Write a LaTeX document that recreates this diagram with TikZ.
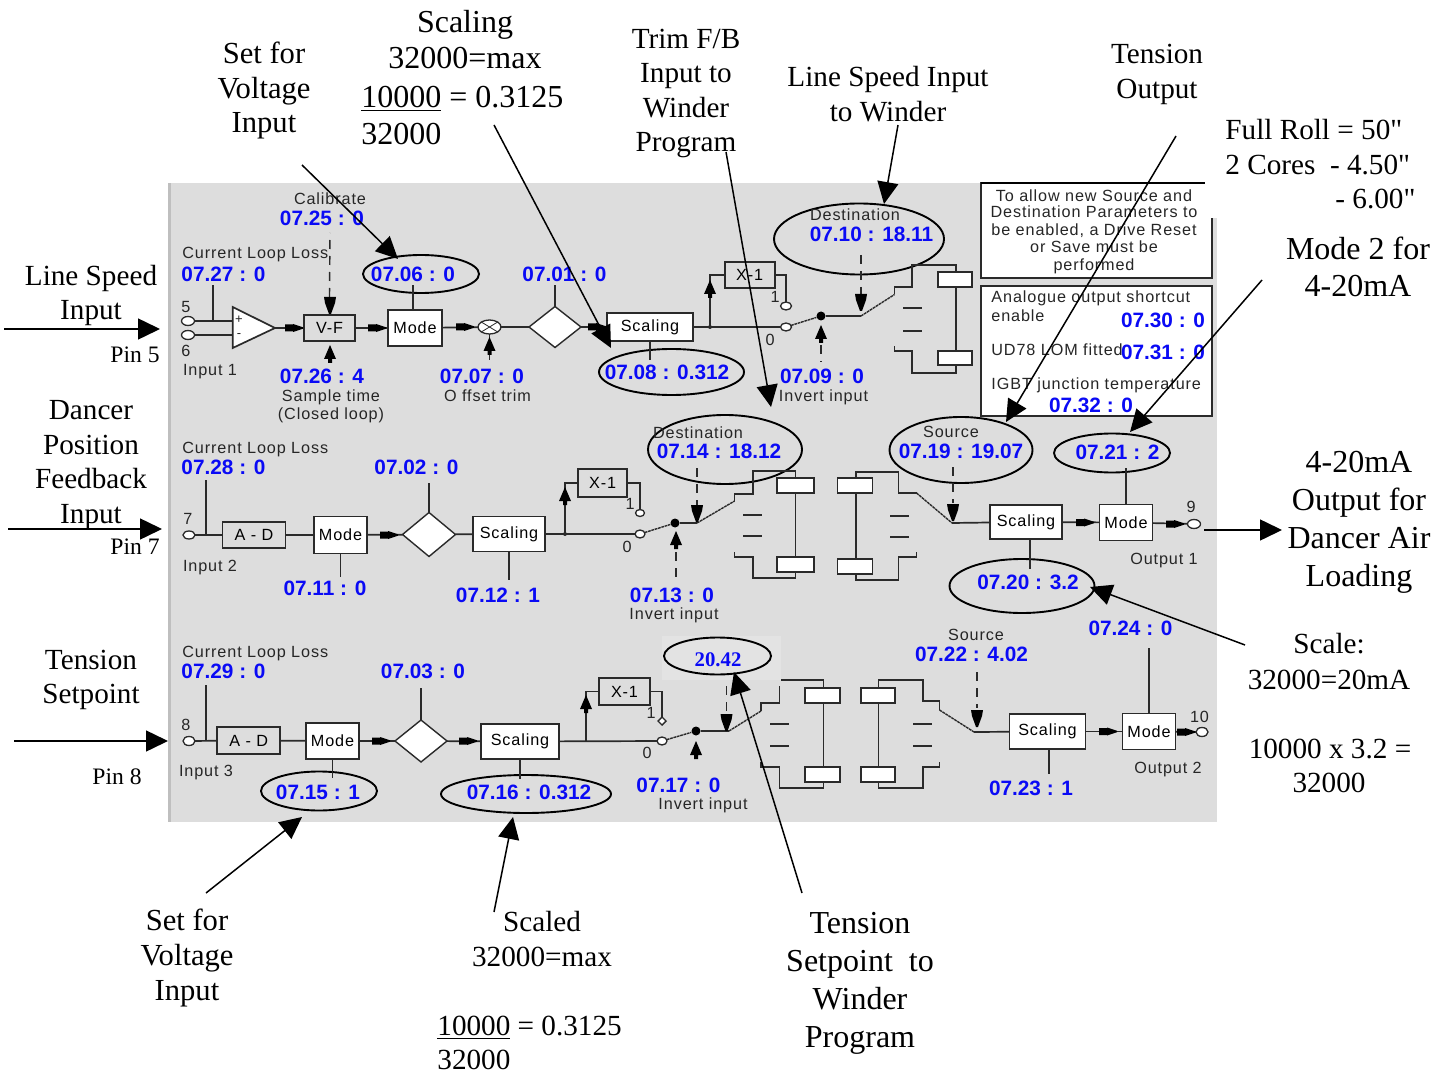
\documentclass[tikz,border=0pt]{standalone}
\usepackage{fontspec}
\usepackage{xcolor}
\usetikzlibrary{shapes.geometric,arrows.meta}
\setmainfont{Liberation Serif}
\newfontfamily\plainser{Liberation Serif}
\newfontfamily\uifont[LetterSpace=5.5]{Liberation Sans}
\newfontfamily\valfont{Liberation Sans}
\definecolor{panel}{HTML}{DDDDDD}
\definecolor{patch}{HTML}{E3E3E3}
\definecolor{wirec}{HTML}{2A2A2A}
\definecolor{valc}{HTML}{0A0AF5}
\newcommand\boxtxt{\uifont\fontsize{8.1}{9.6}\selectfont}
\newcommand\tipR[2]{\fill[black] (#1,#2-3.5) -- (#1+8,#2-3.5) -- (#1+8,#2-4) -- (#1+18,#2-.7) -- (#1+18,#2+.7) -- (#1+8,#2+4) -- (#1+8,#2+3.5) -- (#1,#2+3.5) -- cycle;}
\newcommand\tipD[2]{\fill[black] (#1-6,#2-17) -- (#1+6,#2-17) -- (#1+5,#2-11) -- (#1+1,#2) -- (#1-1,#2) -- (#1-5,#2-11) -- cycle;}
\newcommand\tipU[2]{\fill[black] (#1,#2) -- (#1+6,#2+14) -- (#1+2,#2+14) -- (#1+2,#2+18) -- (#1-2,#2+18) -- (#1-2,#2+14) -- (#1-6,#2+14) -- cycle;}
\tikzset{
  ann/.style={font=\fontsize{14.6}{17.3}\selectfont,align=center,inner sep=0pt,text=black},
  annB/.style={ann,font=\fontsize{16}{19}\selectfont},
  annM/.style={ann,font=\fontsize{15.3}{17.4}\selectfont},
  annl/.style={ann,anchor=west},
  pinlab/.style={font=\fontsize{11.8}{14}\selectfont,inner sep=0pt,text=black},
  ui/.style={font=\uifont\fontsize{8.1}{9.6}\selectfont,inner sep=0pt,text=black!85,text height=5.8pt,text depth=0pt},
  uil/.style={ui,anchor=west},
  sgn/.style={font=\uifont\fontsize{6.5}{7}\selectfont,inner sep=0pt,text=black!85},
  val/.style={font=\valfont\bfseries\fontsize{10.4}{12}\selectfont,inner sep=0pt,text=valc},
  bx/.style n args={2}{draw=wirec,line width=.95pt,inner sep=0pt,outer sep=0pt,minimum width=#1*.5pt,minimum height=#2*.5pt},
  wbox/.style n args={2}{bx={#1}{#2},fill=white},
  gbox/.style n args={2}{bx={#1}{#2},fill=panel},
  ell/.style n args={2}{ellipse,draw=black,line width=.95pt,inner sep=0pt,outer sep=0pt,minimum width=#1*.5pt,minimum height=#2*.5pt},
  circ/.style n args={2}{ellipse,draw=wirec,fill=white,line width=.65pt,inner sep=0pt,outer sep=0pt,minimum width=#1*.5pt,minimum height=#2*.5pt},
  dia/.style n args={2}{diamond,draw=wirec,fill=white,line width=.7pt,inner sep=0pt,outer sep=0pt,minimum width=#1*.5pt,minimum height=#2*.5pt},
  dotj/.style={circle,fill=black,inner sep=0pt,minimum size=4.5pt},
  wire/.style={draw=wirec,line width=.85pt},
  dash1/.style={draw=wirec,line width=.7pt,dash pattern=on 4.5pt off 3.5pt},
  sw/.style={draw=wirec,line width=.7pt,dash pattern=on 1.4pt off .35pt},
  big/.style={draw=black,line width=.75pt,-{Triangle[length=11pt,width=10.5pt,fill=black]}},
}
\begin{document}
\begin{tikzpicture}[x=.5pt,y=-.5pt]
\useasboundingbox (0,0) rectangle (1443,1074);
\fill[white] (0,0) rectangle (1443,1074);
\fill[panel] (168,183) rectangle (1217,822);
\fill[black!25] (168,183) rectangle (171,822);

%% ----- row 1 -----
\node[uil] (cll1) at (182,253) {Current Loop Loss};
\node[val] (v0727) at (223.5,274) {07.27 : 0};
\node[ui] (calib) at (330,199) {Calibrate};
\node[val] (v0725) at (322,218) {07.25 : 0};
\node[ui] (n5) at (186,307) {5};
\node[ui] (n6) at (186,351) {6};
\node[circ={13}{9}] (p5) at (188,321) {};
\node[circ={13}{9}] (p6) at (188,335) {};
\node[ui] (in1) at (210,370) {Input 1};
\coordinate (amp1) at (232.7,321);
\coordinate (amp2) at (232.7,335);
\draw[wire] (p5) -- (amp1);
\draw[wire] (p6) -- (amp2);
\draw[wire] (213,321) -- (213,285);
\draw[wire,fill=white] (232.7,307) -- (275,328) -- (232.7,348) -- cycle;
\node[sgn] (plus) at (239,320) {+};
\node[sgn] (minus) at (239,336) {-};
\node[gbox={51}{26}] (vf) at (329.5,328) {\boxtxt V-F};
\coordinate (ampout) at (275,328);
\draw[wire] (ampout) -- (vf);
\node[wbox={54}{36}] (mode1) at (415,328) {\boxtxt Mode};
\draw[wire] (vf) -- (mode1);
\node[circ={23}{14}] (mix) at (489.5,327) {};
\draw[draw=wirec,line width=.4pt] (mix.north west) -- (mix.south east) (mix.north east) -- (mix.south west);
\node[dia={52}{41}] (d1) at (555,327) {};
\node[wbox={86}{28}] (sc1) at (650,327) {\boxtxt Scaling};
\draw[wire] (mode1) -- (mix);
\draw[wire] (mix) -- (d1);
\draw[wire] (d1) -- (sc1);
\tipR{285}{328}\tipR{368}{328}\tipR{456}{327}\tipR{588}{327}
\node[ell={116}{38}] (e0706) at (421,274) {};
\node[val] (v0706) at (413,274) {07.06 : 0};
\draw[wire] (mode1.north) ++(-2,0) -- ++(0,-25);
\node[val] (v0701) at (564.5,274) {07.01 : 0};
\draw[wire] (d1.north) -- ++(0,-21);
\draw[dash1] (vf.north) ++(0,-18) -- (330,233);
\tipD{330}{314}
\node[val] (v0726) at (322,376) {07.26 : 4};
\tipU{330}{345}
\node[ui] (samp) at (331,396) {Sample time};
\node[ui] (clos) at (331,414) {(Closed loop)};
\node[val] (v0707) at (482,376) {07.07 : 0};
\node[ui] (otrim) at (487.5,396) {O ffset trim};
\draw[wire] (mix.south) -- ++(0,26);
\tipU{489.5}{337}
\node[val] (v0708) at (667,372) {07.08 : 0.312};
\node[ell={145}{46}] (e0708) at (671.5,372) {};
\draw[wire] (sc1.south) -- ++(0,19);
\node[gbox={50}{26}] (xa) at (749.7,275) {\boxtxt X-1};
\node[circ={11}{8}] (s1b) at (786,306) {};
\node[circ={11}{8}] (s1a) at (786,327) {};
\node[ui] (l1a) at (775,297) {1};
\node[ui] (l0a) at (770,340) {0};
\coordinate (br1) at (710,327);
\draw[wire] (sc1) -- (s1a);
\draw[wire] (br1) |- (xa);
\draw[wire] (xa.east) -| (s1b.north);
\fill[wirec] (br1) circle (2);
\tipU{710}{280}
\node[dotj] (j1) at (821,316) {};
\draw[sw] (s1a) -- (j1);
\coordinate (s1in) at (861,316);
\draw[wire] (j1) -- (s1in);
\tipU{821}{325}
\draw[dash1] (821,345) -- (821,362);
\node[val] (v0709) at (822,376) {07.09 : 0};
\node[ui] (inv1) at (823.5,396) {Invert input};
\node[ell={170}{71}] (e0710) at (859,239) {};
\node[ui] (dest1) at (855,215) {Destination};
\node[val] (v0710) at (871.5,234) {07.10 : 18.11};
\draw[dash1] (861,255) -- (861,294);
\tipD{861}{311}
\draw[sw] (s1in) -- (894.5,294.5);
\draw[wire] (894.5,294.5) -- (894.5,287) -- (912,287) -- (912,265) -- (956,265) -- (956,373) -- (912,373) -- (912,351) -- (894.5,351) -- (894.5,346);
\node[wbox={34}{15}] (c1a) at (955,279.5) {};
\node[wbox={34}{14}] (c1b) at (955,358) {};
\draw[wire] (903,308) -- (922,308) (903,331) -- (922,331);

%% ----- info boxes -----
\node[gbox={231}{95},fill=white] (info1) at (1096.5,230.5) {};
\fill[white] (1205,175) rectangle (1222,218);
\draw[black,line width=.8pt] (980.7,183) -- (1205,183);
\node[ui] (t1) at (1094,196) {To allow new  Source and};
\node[ui] (t2) at (1094,212) {Destination Parameters to};
\node[ui] (t3) at (1094,230) {be enabled, a Drive Reset};
\node[ui] (t4) at (1094,247) {or Save must be};
\node[ui] (t5) at (1094,265) {performed};
\node[gbox={231}{130},fill=white] (info2) at (1096.5,351) {};
\node[uil] (u1) at (991,297) {Analogue output shortcut};
\node[uil] (u2) at (991,316) {enable};
\node[val] (v0730) at (1163,320) {07.30 : 0};
\node[uil] (u3) at (991,350) {UD78 LOM fitted};
\node[val] (v0731) at (1163,352) {07.31 : 0};
\node[uil] (u4) at (991,384) {IGBT junction temperature};
\node[val] (v0732) at (1091,405) {07.32 : 0};

%% ----- row 2 -----
\node[uil] (cll2) at (182,448) {Current Loop Loss};
\node[val] (v0728) at (223.5,467) {07.28 : 0};
\node[circ={12}{8}] (p7) at (189,535) {};
\node[ui] (n7) at (188,519) {7};
\node[ui] (in2) at (210,566) {Input 2};
\node[gbox={63}{26}] (ad2) at (254,535) {\boxtxt A - D};
\draw[wire] (p7) -- (ad2);
\draw[wire] (206,535) -- (206,480);
\node[wbox={53}{37}] (mode2) at (340.5,535) {\boxtxt Mode};
\node[dia={53}{44}] (d2) at (429,534.5) {};
\node[wbox={72}{35}] (sc2) at (509,534) {\boxtxt Scaling};
\draw[wire] (ad2) -- (mode2);
\draw[wire] (mode2) -- (d2);
\draw[wire] (d2) -- (sc2);
\tipR{380}{535}
\draw[wire] (mode2.south) -- ++(0,23);
\node[val] (v0711) at (325,588) {07.11 : 0};
\draw[wire] (d2.north) -- ++(0,-30);
\node[val] (v0702) at (416.5,467) {07.02 : 0};
\draw[wire] (sc2.south) -- ++(0,28);
\node[val] (v0712) at (498,595) {07.12 : 1};
\node[gbox={49}{28}] (xb) at (602.7,483) {\boxtxt X-1};
\node[circ={9}{7}] (s2b) at (640,513) {};
\node[circ={10}{8}] (s2a) at (640,534) {};
\node[ui] (l1b) at (630,504) {1};
\node[ui] (l0b) at (627,547) {0};
\coordinate (br2) at (565,534);
\draw[wire] (sc2) -- (s2a);
\draw[wire] (br2) |- (xb);
\draw[wire] (xb.east) -| (s2b.north);
\fill[wirec] (br2) circle (2);
\tipU{565}{487}
\node[dotj] (j2) at (675,523) {};
\draw[sw] (s2a) -- (j2);
\coordinate (s2in) at (697,523);
\draw[wire] (j2) -- (s2in);
\tipU{676}{531}
\draw[dash1] (676,552) -- (676,582);
\node[val] (v0713) at (672,595) {07.13 : 0};
\node[ui] (inv2) at (674,614) {Invert input};
\node[ell={154}{69}] (e0714) at (725,449.5) {};
\node[ui] (dest2) at (698,433) {Destination};
\node[val] (v0714) at (719,451) {07.14 : 18.12};
\draw[dash1] (697,468) -- (697,505);
\tipD{697}{522}
\draw[sw] (s2in) -- (734.6,501);
\draw[wire] (734.6,501) -- (734.6,494) -- (753,494) -- (753,471) -- (795.5,471) -- (795.5,578) -- (753,578) -- (753,557) -- (734.6,557) -- (734.6,552);
\node[wbox={37}{15}] (c2a) at (795.5,485.5) {};
\node[wbox={37}{15}] (c2b) at (795.5,564.5) {};
\draw[wire] (743,515) -- (762,515) (743,536) -- (762,536);
\draw[wire] (916.5,493) -- (898.6,493) -- (898.6,472) -- (856,472) -- (856,580) -- (898.6,580) -- (898.6,557) -- (916.5,557) -- (916.5,552);
\node[wbox={35}{15}] (c3a) at (855,485.5) {};
\node[wbox={35}{15}] (c3b) at (855,566.5) {};
\draw[wire] (890,516) -- (909,516) (890,537) -- (909,537);
\coordinate (s3out) at (952,523);
\draw[sw] (916.5,493) -- (s3out);
\node[ell={143}{66}] (e0719) at (961,450) {};
\node[ui] (src2) at (951,432) {Source};
\node[val] (v0719) at (961,451) {07.19 : 19.07};
\draw[dash1] (953,467) -- (953,503);
\tipD{953}{521}
\node[wbox={72}{34}] (sc3) at (1026,522) {\boxtxt Scaling};
\draw[wire] (s3out) -- (sc3);
\node[wbox={53}{36}] (mode3) at (1126,522.5) {\boxtxt Mode};
\draw[wire] (sc3) -- (mode3);
\tipR{1076}{522.5}
\node[ell={145}{54}] (e0720) at (1022,586) {};
\node[val] (v0720) at (1028,582) {07.20 : 3.2};
\draw[wire] (sc3.south) ++(4,0) -- ++(0,30);
\node[ell={116}{39}] (e0721) at (1112,453) {};
\node[val] (v0721) at (1117.5,452) {07.21 : 2};
\draw[wire] (mode3.north) -- ++(0,-37);
\node[circ={13}{9}] (p9) at (1194,524) {};
\node[ui] (n9) at (1191,507) {9};
\draw[wire] (mode3) -- (p9);
\tipR{1166}{524}
\node[ui] (out1) at (1164,559) {Output 1};

%% ----- row 3 -----
\node[uil] (cll3) at (182,652) {Current Loop Loss};
\node[val] (v0729) at (223.5,671) {07.29 : 0};
\node[circ={12}{9}] (p8) at (189,741) {};
\node[ui] (n8) at (186,725) {8};
\node[ui] (in3) at (206,771) {Input 3};
\node[gbox={63}{27}] (ad3) at (248.7,740.5) {\boxtxt A - D};
\draw[wire] (p8) -- (ad3);
\draw[wire] (206,741) -- (206,685);
\node[wbox={53}{36}] (mode4) at (332.5,741) {\boxtxt Mode};
\node[dia={52}{42}] (d3) at (421,741) {};
\node[wbox={78}{35}] (sc4) at (520,741.5) {\boxtxt Scaling};
\draw[wire] (ad3) -- (mode4);
\draw[wire] (mode4) -- (d3);
\draw[wire] (d3) -- (sc4);
\tipR{372}{741}\tipR{459}{741}
\node[ell={116}{39}] (e0715) at (319,791) {};
\node[val] (v0715) at (318,792) {07.15 : 1};
\draw[wire] (mode4.south) -- ++(0,19);
\draw[wire] (d3.north) -- ++(0,-32);
\node[val] (v0703) at (423,671) {07.03 : 0};
\node[ell={170}{38}] (e0716) at (526,794) {};
\node[val] (v0716) at (529,792) {07.16 : 0.312};
\draw[wire] (sc4.south) -- ++(0,20);
\node[gbox={51}{27}] (xc) at (624.5,691.5) {\boxtxt X-1};
\node[dia={8}{8}] (s4b) at (662,721) {};
\node[circ={10}{8}] (s4a) at (662,741) {};
\node[ui] (l1c) at (651,713) {1};
\node[ui] (l0c) at (647,753) {0};
\coordinate (br4) at (586,741);
\draw[wire] (sc4) -- (s4a);
\draw[wire] (br4) |- (xc);
\draw[wire] (xc.east) -| (s4b.north);
\tipU{586}{695}
\node[dotj] (j4) at (696,731) {};
\draw[sw] (s4a) -- (j4);
\coordinate (s4in) at (729,731);
\draw[wire] (j4) -- (s4in);
\tipU{696}{741}
\node[val] (v0717) at (678.5,785) {07.17 : 0};
\node[ui] (inv3) at (703,804) {Invert input};
\fill[patch] (662,636) rectangle (781,680);
\node[ell={107}{37}] (e2042) at (717.5,656) {};
\node[font=\bfseries\fontsize{10.4}{12}\selectfont,text=valc,inner sep=0pt] (v2042) at (718,660) {20.42};
\draw[dash1] (726.5,686) -- (726.5,715);
\tipD{726.5}{731}
\draw[sw] (s4in) -- (761,711);
\draw[wire] (761,711) -- (761,703) -- (779.6,703) -- (779.6,686);
\draw[wire] (781,680) -- (823.5,680) -- (823.5,788) -- (779.6,788) -- (779.6,767) -- (761,767) -- (761,762);
\node[wbox={35}{15}] (c4a) at (822.5,695.5) {};
\node[wbox={35}{15}] (c4b) at (822.5,774.5) {};
\draw[wire] (770,724) -- (789,724) (770,746) -- (789,746);
\draw[wire] (939.5,710) -- (939.5,701) -- (923,701) -- (923,680) -- (878.6,680) -- (878.6,788) -- (923,788) -- (923,767) -- (939.5,767) -- (939.5,762);
\node[wbox={34}{15}] (c5a) at (878,695.5) {};
\node[wbox={34}{15}] (c5b) at (878,774.5) {};
\draw[wire] (913,724) -- (932,724) (913,746) -- (932,746);
\coordinate (s5out) at (974,732);
\draw[sw] (939.5,710) -- (s5out);
\node[ui] (src3) at (976,635) {Source};
\node[val] (v0722) at (971.5,654) {07.22 : 4.02};
\draw[dash1] (977,672) -- (977,708);
\tipD{977}{727}
\node[wbox={76}{35}] (sc5) at (1047.5,731.5) {\boxtxt Scaling};
\draw[wire] (s5out) -- (sc5);
\draw[wire] (sc5.south) ++(1.5,0) -- ++(0,25);
\node[val] (v0723) at (1031,788) {07.23 : 1};
\node[wbox={53}{36}] (mode5) at (1149,731.5) {\boxtxt Mode};
\draw[wire] (sc5) -- (mode5);
\tipR{1099}{731.5}
\draw[wire] (mode5.north) -- ++(0,-66);
\node[val] (v0724) at (1130.5,628) {07.24 : 0};
\node[circ={12}{9}] (p10) at (1202,732) {};
\node[ui] (n10) at (1199.5,717) {10};
\draw[wire] (mode5) -- (p10);
\tipR{1177}{732}
\node[ui] (out2) at (1168,768) {Output 2};

%% ----- annotations -----
\node[annM] (a1) at (264,90.5) {Set for\\Voltage\\Input};
\node[annB] (a2a) at (465,25) {Scaling};
\node[annB] (a2b) at (465,58) {32000=max};
\node[annB,anchor=west] (a2c) at (361,99) {\underline{10000} = 0.3125};
\node[annB,anchor=west] (a2d) at (361,134) {32000};
\node[ann] (a3) at (686,93.5) {Trim F/B\\Input to\\Winder\\Program};
\node[ann] (a4) at (888,94) {Line Speed Input\\to Winder};
\node[ann] (a5) at (1157,74.5) {Tension\\Output};
\node[annl] (a6a) at (1225,130) {\plainser Full Roll = 50"};
\node[annl] (a6b) at (1225,165) {\plainser 2 Cores \ - 4.50"};
\node[annl] (a6c) at (1335,199) {\plainser - 6.00"};
\node[annB,font=\fontsize{16}{18.3}\selectfont] (a7) at (1358,267) {Mode 2 for\\4-20mA};
\node[ann] (a8) at (91,295.5) {Line Speed\\Input};
\node[pinlab] (pin5) at (135,355) {Pin 5};
\node[ann] (a9) at (91,465) {Dancer\\Position\\Feedback\\Input};
\node[pinlab] (pin7) at (135,547) {Pin 7};
\node[ann] (a10) at (91,680) {Tension\\Setpoint};
\node[pinlab] (pin8) at (117,777) {Pin 8};
\node[annB] (a11) at (1359,522) {4-20mA\\Output for\\Dancer Air\\Loading};
\node[ann] (a12a) at (1329,644) {Scale:};
\node[ann] (a12b) at (1329,680) {32000=20mA};
\node[ann] (a12c) at (1330,749) {10000 x 3.2 =};
\node[ann] (a12d) at (1329,783) {32000};
\node[annM,font=\fontsize{15.3}{17.7}\selectfont] (a13) at (187,958) {Set for\\Voltage\\Input};
\node[ann] (a14a) at (542,922) {Scaled};
\node[ann] (a14b) at (542,957) {32000=max};
\node[annl] (a14c) at (437,1028) {\underline{10000} = 0.3125};
\node[annl] (a14d) at (437,1060) {32000};
\node[annB] (a15) at (860,983) {Tension\\Setpoint\ \ to\\Winder\\Program};

\coordinate (w1) at (4,329);    \coordinate (w1t) at (160,329);
\coordinate (w2) at (8,529);    \coordinate (w2t) at (162,529);
\coordinate (w3) at (14,741);   \coordinate (w3t) at (168,741);
\coordinate (w4) at (1204,530); \coordinate (w4t) at (1282,530);
\draw[big] (w1) -- (w1t);
\draw[big] (w2) -- (w2t);
\draw[big] (w3) -- (w3t);
\draw[big] (w4) -- (w4t);
\coordinate (b1) at (302,165);   \coordinate (b1t) at (398,259);
\coordinate (b2) at (494,125);   \coordinate (b2t) at (611,348);
\coordinate (b3) at (726,152);   \coordinate (b3t) at (771,407);
\coordinate (b4) at (898,125);   \coordinate (b4t) at (884,204);
\coordinate (b5) at (1176,136);  \coordinate (b5t) at (1006,422);
\coordinate (b6) at (1262,280);  \coordinate (b6t) at (1130,432);
\coordinate (b7) at (1245,645);  \coordinate (b7t) at (1090,587);
\coordinate (b8) at (206,893);   \coordinate (b8t) at (302,817);
\coordinate (b9) at (494,912);   \coordinate (b9t) at (513,817);
\coordinate (b10) at (802,893);  \coordinate (b10t) at (734,672);
\draw[big] (b1) -- (b1t);
\draw[big] (b2) -- (b2t);
\draw[big] (b3) -- (b3t);
\draw[big] (b4) -- (b4t);
\draw[big] (b5) -- (b5t);
\draw[big] (b6) -- (b6t);
\draw[big] (b7) -- (b7t);
\draw[big] (b8) -- (b8t);
\draw[big] (b9) -- (b9t);
\draw[big] (b10) -- (b10t);
\end{tikzpicture}
\end{document}
